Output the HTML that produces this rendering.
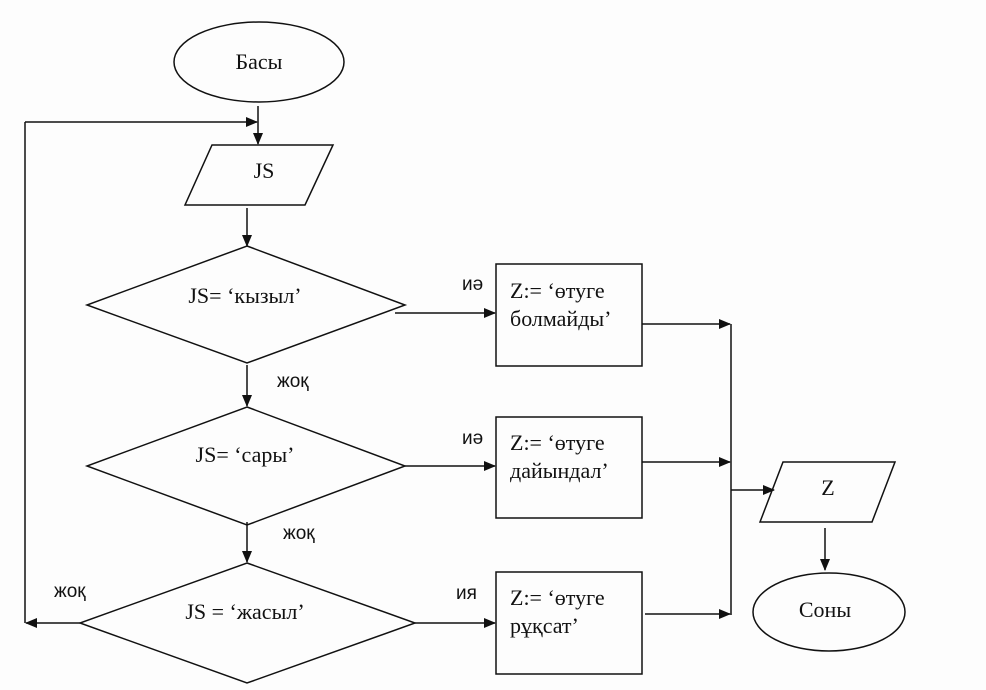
<!DOCTYPE html>
<html><head><meta charset="utf-8"><style>
html,body{margin:0;padding:0;background:#fff;}
svg{display:block;}
.s{font-family:"Liberation Serif",serif;font-size:22px;fill:#111;}
.a{font-family:"Liberation Sans",sans-serif;font-size:19px;fill:#111;}
</style></head><body>
<svg width="986" height="690" viewBox="0 0 986 690" xmlns="http://www.w3.org/2000/svg">
<defs><marker id="m" markerWidth="12" markerHeight="10" refX="11" refY="5" orient="auto" markerUnits="userSpaceOnUse"><path d="M0,0 L12,5 L0,10 z" fill="#111"/></marker></defs>
<rect width="986" height="690" fill="#fdfdfd"/>
<g fill="none" stroke="#111" stroke-width="1.5">
<ellipse cx="259" cy="62" rx="85" ry="40"/>
<line x1="258" y1="106" x2="258" y2="144" marker-end="url(#m)"/>
<line x1="80" y1="623" x2="26" y2="623" marker-end="url(#m)"/>
<line x1="25" y1="623" x2="25" y2="122"/>
<line x1="25" y1="122" x2="257" y2="122" marker-end="url(#m)"/>
<polygon points="212,145 333,145 305,205 185,205"/>
<line x1="247" y1="208" x2="247" y2="246" marker-end="url(#m)"/>
<polygon points="247,246 405,305 247,363 87,305"/>
<line x1="247" y1="365" x2="247" y2="406" marker-end="url(#m)"/>
<polygon points="247,407 405,466 247,525 87,466"/>
<line x1="247" y1="522" x2="247" y2="562" marker-end="url(#m)"/>
<polygon points="247,563 415,623 247,683 80,623"/>
<line x1="395" y1="313" x2="495" y2="313" marker-end="url(#m)"/>
<line x1="405" y1="466" x2="495" y2="466" marker-end="url(#m)"/>
<line x1="415" y1="623" x2="495" y2="623" marker-end="url(#m)"/>
<rect x="496" y="264" width="146" height="102"/>
<rect x="496" y="417" width="146" height="101"/>
<rect x="496" y="572" width="146" height="102"/>
<line x1="642" y1="324" x2="730" y2="324" marker-end="url(#m)"/>
<line x1="642" y1="462" x2="730" y2="462" marker-end="url(#m)"/>
<line x1="645" y1="614" x2="730" y2="614" marker-end="url(#m)"/>
<line x1="731" y1="324" x2="731" y2="615"/>
<line x1="731" y1="490" x2="774" y2="490" marker-end="url(#m)"/>
<polygon points="783,462 895,462 872,522 760,522"/>
<line x1="825" y1="528" x2="825" y2="570" marker-end="url(#m)"/>
<ellipse cx="829" cy="612" rx="76" ry="39"/>
</g>
<text class="s" x="259" y="69" text-anchor="middle">Басы</text>
<text class="s" x="264" y="178" text-anchor="middle">JS</text>
<text class="s" x="245" y="303" text-anchor="middle">JS= ‘кызыл’</text>
<text class="s" x="245" y="462" text-anchor="middle">JS= ‘сары’</text>
<text class="s" x="245" y="619" text-anchor="middle">JS = ‘жасыл’</text>
<text class="s" x="510" y="298">Z:= ‘өтуге</text><text class="s" x="510" y="326">болмайды’</text>
<text class="s" x="510" y="450">Z:= ‘өтуге</text><text class="s" x="510" y="478">дайындал’</text>
<text class="s" x="510" y="605">Z:= ‘өтуге</text><text class="s" x="510" y="633">рұқсат’</text>
<text class="s" x="828" y="495" text-anchor="middle">Z</text>
<text class="s" x="825" y="617" text-anchor="middle">Соны</text>
<text class="a" x="462" y="290">иә</text>
<text class="a" x="462" y="444">иә</text>
<text class="a" x="456" y="599">ия</text>
<text class="a" x="277" y="387">жоқ</text>
<text class="a" x="283" y="539">жоқ</text>
<text class="a" x="54" y="597">жоқ</text>
</svg>
</body></html>
